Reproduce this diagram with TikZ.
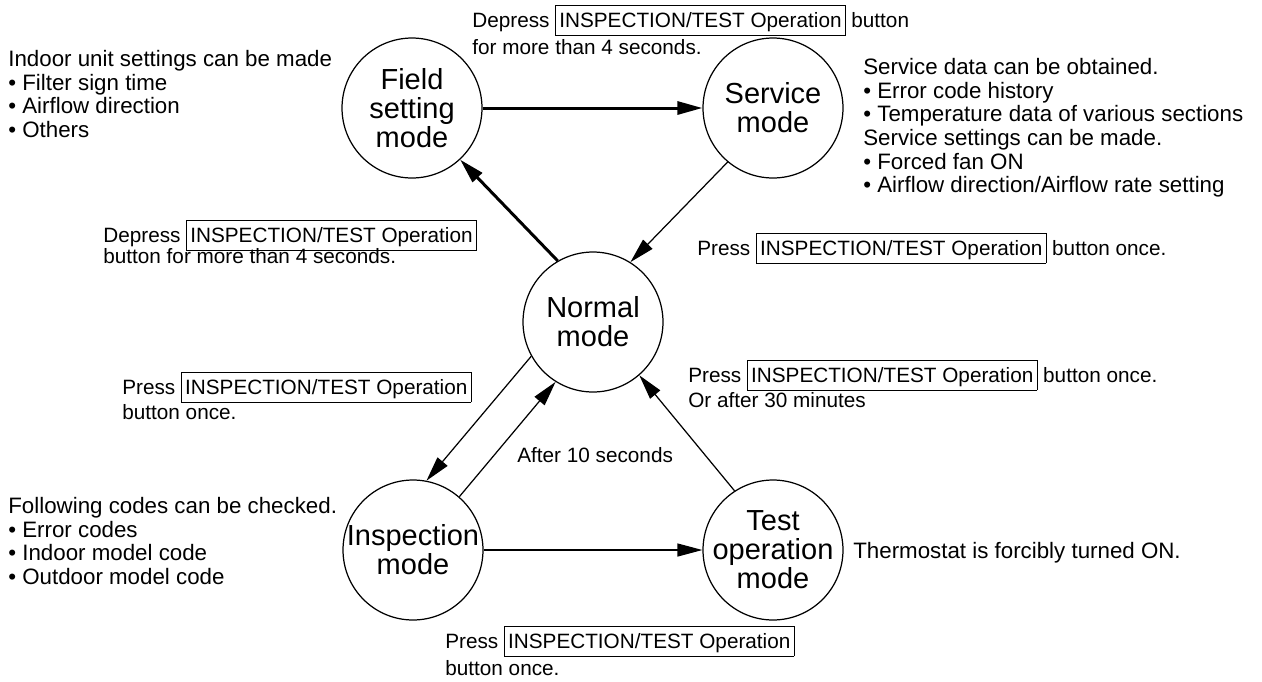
\documentclass[tikz,border=0pt]{standalone}
\usepackage{fontspec}
\setmainfont{Liberation Sans}
\usetikzlibrary{arrows.meta, positioning}
\newcommand{\modefont}{\fontsize{16.5}{16.5}\selectfont}
\newcommand{\notefont}{\fontsize{11.8}{12.3}\selectfont}
\newcommand{\descfont}{\fontsize{12.7}{13.5}\selectfont}
\newcommand{\ts}{\rule{0pt}{13pt}}
\newcommand{\btn}[1]{{\setlength{\fboxsep}{1.8pt}\setlength{\fboxrule}{0.5pt}\fbox{\rule[-2.2pt]{0pt}{12.9pt}#1}}}
\lineskiplimit=-\maxdimen

\begin{document}
\begin{tikzpicture}[x=0.02cm, y=-0.02cm,
    mode/.style={draw, circle, line width=0.7pt, minimum size=2.8cm, inner sep=-4pt, align=center, font=\modefont},
    note/.style={anchor=north west, inner sep=0pt, yshift=13pt, align=left, font=\notefont},
    desc/.style={note, font=\descfont},
    link/.style={line width=0.7pt, -{Triangle[length=0.5cm, width=0.26cm]}},
    boldlink/.style={link, line width=1.7pt}]

\useasboundingbox (0,0) rectangle (1262,681);

% modos
\node[mode] (field) at (412,108) {Field\\setting\\mode};
\node[mode] (service) at (773,108) {Service\\mode};
\node[mode] (normal) at (593,322) {Normal\\mode};
\node[mode] (insp) at (413,550) {Inspection\\mode};
\node[mode] (test) at (773,550) {Test\\operation\\mode};

% flechas
\draw[boldlink] (field.east) -- (service.west);
\draw[boldlink] (normal.120) -- (field.-47);
\draw[link] (service.-130) -- (normal.58);
\draw[link] (normal.-151) -- (insp.79);
\draw[link] (insp.49) -- (normal.-122);
\draw[link] (insp.east) -- (test.west);
\draw[link] (test.123) -- (normal.-49);

% textos
\node[note] (fieldnote) at (472,27)
    {\ts Depress \btn{INSPECTION/TEST Operation} button\\[3.1pt] for more than 4 seconds.};
\node[desc] (fieldinfo) at (8,66)
    {\ts Indoor unit settings can be made\\ • Filter sign time\\ • Airflow direction\\ • Others};
\node[desc] (serviceinfo) at (863,74)
    {\ts Service data can be obtained.\\ • Error code history\\ • Temperature data of various sections\\
     Service settings can be made.\\ • Forced fan ON\\ • Airflow direction/Airflow rate setting};
\node[note] (tofield) at (103,242)
    {\ts Depress \btn{INSPECTION/TEST Operation}\\ button for more than 4 seconds.};
\node[note] (servicenote) at (697,255)
    {\ts Press \btn{INSPECTION/TEST Operation} button once.};
\node[note] (toinsp) at (122,394)
    {\ts Press \btn{INSPECTION/TEST Operation}\\[2.2pt] button once.};
\node[note] (testnote) at (688,382)
    {\ts Press \btn{INSPECTION/TEST Operation} button once.\\[2.2pt] Or after 30 minutes};
\node[note] (wait) at (517,462) {\ts After 10 seconds};
\node[desc] (testinfo) at (853,558) {\ts Thermostat is forcibly turned ON.};
\node[desc] (inspinfo) at (8,513)
    {\ts Following codes can be checked.\\ • Error codes\\ • Indoor model code\\ • Outdoor model code};
\node[note] (totest) at (445,648)
    {\ts Press \btn{INSPECTION/TEST Operation}\\[3.1pt] button once.};

\end{tikzpicture}
\end{document}
